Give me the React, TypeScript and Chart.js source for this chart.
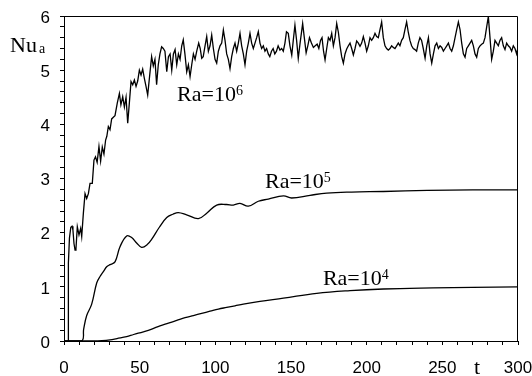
import React, { useEffect, useRef } from "react";
import { Chart, registerables } from "chart.js";

Chart.register(...registerables);

// Ra = 10^6 (noisy)
const t6 = [2.8, 2.9, 3.6, 4.5, 5.3, 5.9, 6.6, 7.3, 7.9, 8.8, 9.9, 11.0, 11.7, 12.8, 13.9, 15.0, 16.1, 17.2, 18.7, 19.8, 20.8, 21.9, 23.1, 24.2, 25.3, 26.4, 27.5, 28.3, 29.3, 30.4, 31.5, 32.6, 33.7, 35.2, 36.6, 37.6, 38.8, 39.9, 41.0, 42.1, 43.2, 44.3, 45.4, 46.5, 47.6, 48.7, 49.8, 50.9, 52.0, 53.1, 54.2, 55.3, 56.6, 57.9, 59.0, 60.1, 61.2, 62.3, 63.4, 64.5, 65.6, 66.7, 67.9, 69.0, 70.1, 71.2, 72.3, 73.4, 74.5, 75.6, 76.7, 77.8, 78.8, 79.9, 81.1, 82.2, 83.3, 84.4, 85.5, 86.6, 87.7, 89.0, 90.0, 91.0, 92.0, 93.2, 94.3, 95.4, 96.5, 97.6, 98.7, 99.8, 100.9, 102.0, 103.1, 104.2, 105.3, 106.4, 107.5, 108.6, 109.7, 110.8, 111.9, 113.0, 114.1, 115.2, 116.3, 117.4, 118.5, 119.6, 120.7, 121.8, 122.9, 124.0, 125.1, 126.2, 127.3, 128.4, 129.5, 130.6, 131.7, 132.8, 133.9, 135.0, 136.0, 137.1, 138.2, 139.3, 140.4, 141.5, 142.7, 143.8, 144.9, 146.0, 147.0, 148.2, 149.3, 150.5, 151.5, 152.6, 153.7, 154.8, 156.0, 157.7, 158.8, 160.0, 161.1, 162.2, 163.5, 164.8, 166.0, 167.3, 168.4, 169.5, 170.5, 171.5, 172.5, 173.6, 174.7, 175.8, 176.9, 178.0, 179.1, 180.2, 181.3, 182.4, 183.5, 184.6, 185.7, 186.8, 187.9, 189.0, 190.1, 191.2, 192.3, 193.4, 194.5, 195.6, 196.7, 197.8, 198.9, 200.0, 201.1, 202.2, 203.3, 204.4, 205.5, 206.6, 207.7, 208.8, 209.9, 211.0, 212.1, 213.2, 214.3, 215.4, 216.5, 217.6, 218.7, 219.8, 220.9, 222.0, 223.1, 224.2, 225.3, 226.4, 227.5, 228.6, 229.7, 230.8, 231.9, 233.0, 234.1, 235.2, 236.3, 237.4, 238.6, 239.7, 240.8, 241.9, 243.0, 244.1, 245.2, 246.3, 247.4, 248.5, 249.6, 250.7, 251.8, 252.9, 254.0, 255.1, 256.2, 257.3, 258.4, 259.5, 260.6, 261.7, 262.8, 263.9, 265.0, 266.1, 267.2, 268.3, 269.4, 270.5, 271.6, 272.7, 273.8, 274.9, 276.0, 277.1, 278.2, 279.3, 280.4, 281.5, 282.6, 283.7, 284.8, 285.9, 287.0, 288.1, 289.2, 290.3, 291.4, 292.5, 293.6, 294.7, 295.8, 296.9, 298.0, 299.1, 300.0];
const nu6 = [0, 1.44, 1.9, 2.1, 2.12, 2.05, 1.8, 1.68, 1.7, 2.11, 1.96, 2.08, 1.93, 2.36, 2.72, 2.63, 2.72, 2.91, 2.91, 3.34, 3.4, 3.3, 3.59, 3.32, 3.58, 3.45, 3.71, 3.78, 3.96, 3.9, 4.1, 4.13, 4.16, 4.39, 4.57, 4.36, 4.51, 4.32, 4.5, 4.02, 4.4, 4.79, 4.73, 4.82, 4.7, 4.8, 5.0, 4.91, 5.02, 4.85, 4.7, 4.54, 4.9, 5.25, 5.08, 5.2, 4.73, 5.1, 5.3, 5.43, 5.4, 5.35, 4.97, 5.25, 5.3, 5.0, 5.3, 5.38, 5.1, 5.3, 5.2, 5.45, 5.56, 5.3, 4.97, 5.1, 4.88, 5.1, 5.3, 5.2, 5.35, 5.5, 5.4, 5.22, 5.25, 5.45, 5.62, 5.35, 5.45, 5.65, 5.4, 5.2, 5.13, 5.35, 5.45, 5.5, 5.74, 5.55, 5.3, 5.2, 5.03, 5.25, 5.4, 5.5, 5.35, 5.5, 5.68, 5.45, 5.3, 5.1, 5.35, 5.5, 5.68, 5.5, 5.4, 5.5, 5.6, 5.71, 5.5, 5.4, 5.45, 5.35, 5.4, 5.3, 5.25, 5.35, 5.4, 5.3, 5.35, 5.45, 5.37, 5.4, 5.35, 5.5, 5.71, 5.68, 5.45, 5.28, 5.55, 5.83, 5.55, 5.22, 5.5, 5.86, 5.6, 5.32, 5.45, 5.6, 5.5, 5.42, 5.45, 5.48, 5.4, 5.55, 5.6, 5.35, 5.19, 5.4, 5.6, 5.55, 5.68, 5.45, 5.6, 5.86, 5.7, 5.45, 5.25, 5.13, 5.3, 5.39, 5.45, 5.5, 5.4, 5.28, 5.4, 5.54, 5.5, 5.44, 5.5, 5.62, 5.5, 5.35, 5.45, 5.6, 5.55, 5.6, 5.68, 5.62, 5.6, 5.75, 5.89, 5.6, 5.45, 5.4, 5.37, 5.4, 5.45, 5.42, 5.4, 5.45, 5.5, 5.45, 5.55, 5.6, 5.75, 5.89, 5.7, 5.55, 5.45, 5.4, 5.38, 5.35, 5.5, 5.6, 5.55, 5.4, 5.22, 5.45, 5.6, 5.3, 5.13, 5.3, 5.45, 5.5, 5.4, 5.45, 5.42, 5.35, 5.4, 5.45, 5.5, 5.4, 5.35, 5.45, 5.6, 5.75, 5.89, 5.75, 5.5, 5.3, 5.24, 5.4, 5.45, 5.5, 5.55, 5.45, 5.3, 5.24, 5.4, 5.45, 5.48, 5.5, 5.6, 5.8, 5.99, 5.6, 5.2, 5.35, 5.55, 5.5, 5.45, 5.55, 5.6, 5.45, 5.38, 5.5, 5.45, 5.42, 5.35, 5.45, 5.4, 5.3, 5.42];

// Ra = 10^5
const t5 = [0, 11.7, 13.0, 15.0, 18.3, 21.6, 23.8, 26.0, 28.2, 30.4, 33.7, 37.0, 41.4, 44.7, 48.0, 51.3, 55.0, 58.0, 63.0, 67.9, 72.0, 75.5, 81.0, 88.8, 94.3, 100.9, 107.5, 111.9, 116.3, 121.8, 128.4, 135.0, 145.0, 150.4, 162.6, 173.6, 190.0, 211.0, 240.0, 270.0, 300.0];
const nu5 = [0, 0, 0.22, 0.47, 0.68, 1.07, 1.19, 1.28, 1.37, 1.41, 1.46, 1.74, 1.94, 1.91, 1.81, 1.73, 1.78, 1.88, 2.1, 2.28, 2.34, 2.37, 2.33, 2.26, 2.36, 2.51, 2.52, 2.51, 2.54, 2.49, 2.58, 2.62, 2.68, 2.64, 2.69, 2.73, 2.75, 2.76, 2.78, 2.79, 2.79];

// Ra = 10^4
const t4 = [0, 19, 25, 30.4, 35, 41.4, 46, 52.4, 58, 63.4, 69, 74.5, 80, 85.5, 91, 96.5, 102, 107.5, 113, 118.5, 129.5, 145, 167, 189, 211, 244, 270, 300];
const nu4 = [0, 0, 0.005, 0.02, 0.045, 0.08, 0.12, 0.17, 0.22, 0.28, 0.33, 0.38, 0.43, 0.47, 0.51, 0.55, 0.59, 0.62, 0.65, 0.68, 0.73, 0.79, 0.88, 0.93, 0.96, 0.98, 0.99, 1.0];

// Curve labels: [base text, exponent, t, Nu]
const curveLabels: [string, string, number, number][] = [
  ["Ra=10", "6", 74.7, 4.43],
  ["Ra=10", "5", 132.8, 2.82],
  ["Ra=10", "4", 171.1, 1.03],
];

const xMajor = 50;
const yMajor = 1;

const SERIF = '"Liberation Serif", "Times New Roman", serif';
const SANS = '"Liberation Sans", Arial, sans-serif';

const toPts = (xs: number[], ys: number[]) => xs.map((x, i) => ({ x, y: ys[i] }));

const overlay = {
  id: "overlay",
  afterDraw(chart: any) {
    const { ctx, chartArea, scales } = chart;
    const xs = scales.x;
    const ys = scales.y;
    ctx.save();
    ctx.strokeStyle = "#000";
    ctx.lineWidth = 1;
    ctx.beginPath();
    ctx.moveTo(Math.round(chartArea.left) + 0.5, Math.round(chartArea.top) + 0.5);
    ctx.lineTo(Math.round(chartArea.right) - 0.5, Math.round(chartArea.top) + 0.5);
    ctx.lineTo(Math.round(chartArea.right) - 0.5, Math.round(chartArea.bottom));
    ctx.stroke();

    ctx.fillStyle = "#000";
    ctx.textBaseline = "alphabetic";
    ctx.textAlign = "left";
    for (const [base, sup, tx, ny] of curveLabels) {
      const px = xs.getPixelForValue(tx);
      const py = ys.getPixelForValue(ny);
      ctx.font = `22px ${SERIF}`;
      ctx.fillText(base, px, py);
      const w = ctx.measureText(base).width;
      ctx.font = `14px ${SERIF}`;
      ctx.fillText(sup, px + w, py - 6);
    }
    ctx.font = `22px ${SERIF}`;
    const nuX = chartArea.left - 54;
    const nuY = ys.getPixelForValue(5.33);
    ctx.fillText("Nu", nuX, nuY);
    const nw = ctx.measureText("Nu").width;
    ctx.font = `14px ${SERIF}`;
    ctx.fillText("a", nuX + nw + 2, nuY + 1);
    ctx.font = `22px ${SERIF}`;
    ctx.textAlign = "center";
    ctx.fillText("t", xs.getPixelForValue(273), chartArea.bottom + 33);
    ctx.restore();
  },
};

export default function App() {
  const ref = useRef<HTMLCanvasElement | null>(null);
  useEffect(() => {
    if (!ref.current) return;
    const lineDs = (data: any[], tension: number, width: number) => ({
      data,
      borderColor: "#000",
      borderWidth: width,
      pointRadius: 0,
      fill: false,
      tension,
    });
    const chart = new Chart(ref.current, {
      type: "line",
      data: {
        datasets: [
          lineDs(toPts(t6, nu6), 0, 1.3),
          lineDs(toPts(t5, nu5), 0.4, 1.3),
          lineDs(toPts(t4, nu4), 0.4, 1.3),
        ],
      },
      options: {
        responsive: false,
        animation: false,
        devicePixelRatio: 1,
        layout: { padding: { left: 0, right: 14, top: 16, bottom: 0 } },
        plugins: { legend: { display: false }, tooltip: { enabled: false } },
        scales: {
          x: {
            type: "linear",
            min: 0,
            max: 300,
            ticks: {
              stepSize: 10,
              autoSkip: false,
              maxRotation: 0,
              padding: 13,
              color: "#000",
              font: { family: SANS, size: 17 },
              callback: (v: any) => (Math.abs(v % xMajor) < 1e-6 ? String(v) : ""),
            },
            grid: { display: true, drawOnChartArea: false, drawTicks: true, tickLength: 4, tickColor: "#000", tickWidth: 1 },
            border: { display: true, color: "#000", width: 1 },
            afterFit: (s: any) => {
              s.height = 35;
              s.paddingLeft = 0;
              s.paddingRight = 0;
            },
          },
          y: {
            type: "linear",
            min: 0,
            max: 6,
            ticks: {
              stepSize: 0.2,
              autoSkip: false,
              padding: 10,
              labelOffset: 2,
              color: "#000",
              font: { family: SANS, size: 17 },
              callback: (v: any) => {
                const r = Math.round(v / yMajor) * yMajor;
                return Math.abs(v - r) < 1e-6 ? String(r) : "";
              },
            },
            grid: { display: true, drawOnChartArea: false, drawTicks: true, tickLength: 4, tickColor: "#000", tickWidth: 1 },
            border: { display: true, color: "#000", width: 1 },
            afterFit: (s: any) => {
              s.width = 64;
              s.paddingTop = 0;
              s.paddingBottom = 0;
            },
          },
        },
      },
      plugins: [overlay],
    });
    return () => chart.destroy();
  }, []);
  return (
    <div style={{ position: "fixed", left: 0, top: 0, width: 532, height: 376, background: "#fff" }}>
      <canvas ref={ref} width={532} height={376} />
    </div>
  );
}
